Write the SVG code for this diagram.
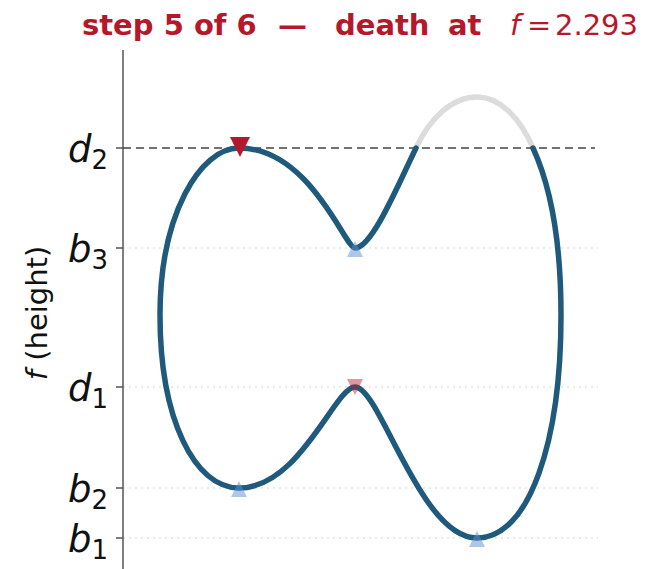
<svg xmlns="http://www.w3.org/2000/svg" width="646" height="569" viewBox="0 0 646 569">
<style>
.title{font-family:"DejaVu Sans",sans-serif;font-size:29px;font-weight:bold;fill:#b5182b}
.lab{font-family:"DejaVu Sans",sans-serif;font-size:37px;font-style:italic;fill:#111}
.sub{font-size:26px;font-style:normal}
.ylab{font-family:"DejaVu Sans",sans-serif;font-size:29px;fill:#111}
.dot{stroke:#d4d4d4;stroke-width:1.2;stroke-dasharray:2,4;fill:none}
.curve{fill:none;stroke:#1f5a7c;stroke-width:5.5;stroke-linecap:round;stroke-linejoin:round}
.ghost{fill:none;stroke:#dcdcdc;stroke-width:5.5;stroke-linecap:round}
.tick{stroke:#555;stroke-width:1.5}
.birth{fill:#5b8fd0;fill-opacity:0.5}
.death{fill:#b5182b}
.deathold{fill:#b5182b;fill-opacity:0.45}
</style>
<rect width="646" height="569" fill="#fff"/>
<text class="title" y="35"><tspan x="82">step 5 of 6</tspan><tspan x="278">—</tspan><tspan x="335">death</tspan><tspan x="448">at</tspan><tspan x="510" font-style="italic" font-weight="normal">f</tspan><tspan x="527" font-weight="normal">=</tspan><tspan x="555" font-weight="normal">2.293</tspan></text>
<g id="grid">
<line class="dot" x1="123" y1="248" x2="598" y2="248"/>
<line class="dot" x1="123" y1="387" x2="598" y2="387"/>
<line class="dot" x1="123" y1="488" x2="598" y2="488"/>
<line class="dot" x1="123" y1="538" x2="598" y2="538"/>
</g>
<g id="axis">
<line x1="123" y1="50" x2="123" y2="569" stroke="#555" stroke-width="1.5"/>
<line class="tick" x1="116" y1="148" x2="123" y2="148"/>
<line class="tick" x1="116" y1="248" x2="123" y2="248"/>
<line class="tick" x1="116" y1="387" x2="123" y2="387"/>
<line class="tick" x1="116" y1="488" x2="123" y2="488"/>
<line class="tick" x1="116" y1="538" x2="123" y2="538"/>
<text class="lab" x="108" y="162" text-anchor="end">d<tspan class="sub" dy="7">2</tspan></text>
<text class="lab" x="108" y="262" text-anchor="end">b<tspan class="sub" dy="7">3</tspan></text>
<text class="lab" x="108" y="401" text-anchor="end">d<tspan class="sub" dy="7">1</tspan></text>
<text class="lab" x="108" y="502" text-anchor="end">b<tspan class="sub" dy="7">2</tspan></text>
<text class="lab" x="108" y="552" text-anchor="end">b<tspan class="sub" dy="7">1</tspan></text>
<text class="ylab" transform="translate(47,313) rotate(-90)" text-anchor="middle"><tspan font-style="italic">f</tspan> (height)</text>
</g>
<g id="connectors">
<path class="ghost" d="M533,148 C520,118 500,97 477,97 C452,97 430,118 416,148"/>
<line x1="123" y1="148" x2="595" y2="148" stroke="#444" stroke-width="1.5" stroke-dasharray="8,5"/>
<path class="curve" d="M416,148 C398,185 372,248 355,248 C345,248 310,148 239,148 C200,148 160,215 160,315 C160,420 195,488 239,488 C300,488 335,387 355,387 C380,387 420,538 477,538 C530,538 561,440 561,315 C561,240 550,185 533,148"/>
</g>
<g id="death-d2"><polygon class="death" points="230,137 250,137 240,157"/></g>
<g id="death-d1"><polygon class="deathold" points="347,379 363,379 355,395"/></g>
<g id="birth-b3"><polygon class="birth" points="347,257 363,257 355,241"/></g>
<g id="birth-b2"><polygon class="birth" points="231,497 247,497 239,481"/></g>
<g id="birth-b1"><polygon class="birth" points="469,547 485,547 477,531"/></g>
</svg>
